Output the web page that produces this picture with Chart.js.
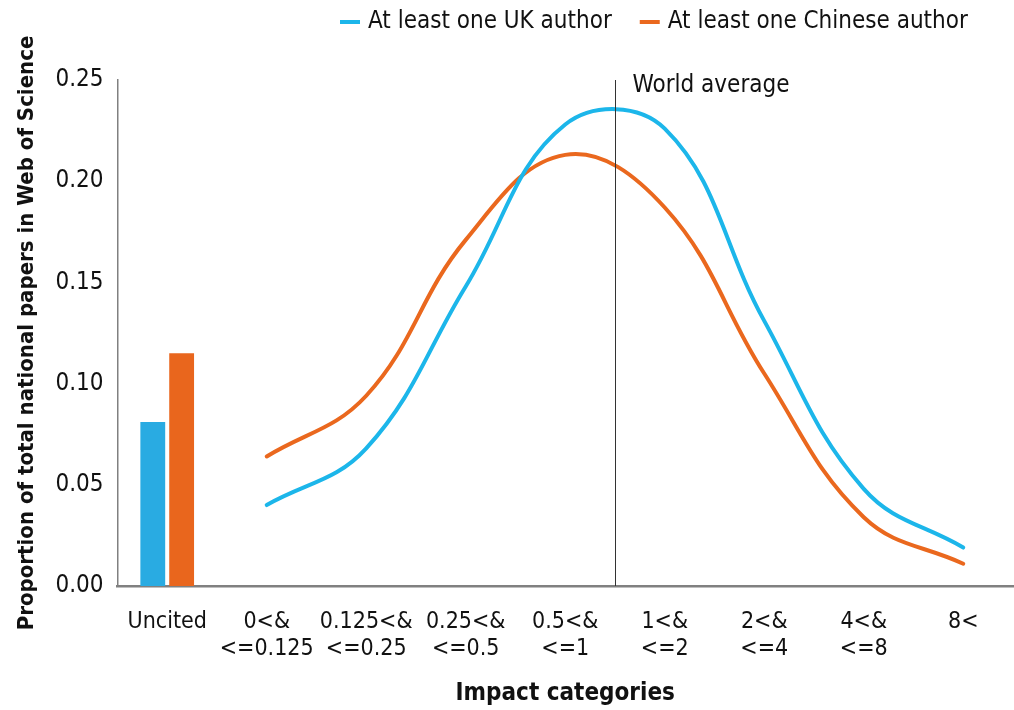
<!DOCTYPE html>
<html>
<head>
<meta charset="utf-8">
<script src="https://cdn.jsdelivr.net/npm/chart.js@4/dist/chart.umd.min.js"></script>
<style>
  html, body { margin: 0; padding: 0; background: #ffffff; }
  #wrap { width: 1014px; height: 710px; position: relative; }
</style>
</head>
<body>
<div id="wrap"><canvas id="c"></canvas></div>
<script>
// ---- data ----
const categories = ['Uncited', ['0<&', '<=0.125'], ['0.125<&', '<=0.25'], ['0.25<&', '<=0.5'], ['0.5<&', '<=1'], ['1<&', '<=2'], ['2<&', '<=4'], ['4<&', '<=8'], '8<'];
const seriesNames = ['At least one UK author', 'At least one Chinese author'];
const ukUncited = [0.081, null, null, null, null, null, null, null, null];
const cnUncited = [0.115, null, null, null, null, null, null, null, null];
const ukCurve = [null, 0.040, 0.068, 0.148, 0.228, 0.226, 0.131, 0.048, 0.019];
const cnCurve = [null, 0.064, 0.094, 0.171, 0.213, 0.187, 0.105, 0.034, 0.011];
const yTicks = [0, 0.05, 0.10, 0.15, 0.20, 0.25];
const worldAveragePos = 4.5; // boundary between "0.5<& <=1" and "1<& <=2"
const worldAverageLabel = 'World average';
const xTitle = 'Impact categories';
const yTitle = 'Proportion of total national papers in Web of Science';

// ---- style ----
const FONT = "'Liberation Sans Narrow', 'DejaVu Sans Condensed', 'Roboto Condensed', sans-serif";
const BLUE_BAR = '#29abe2', ORANGE_BAR = '#e9661d';
const BLUE_LINE = '#1cb6ea', ORANGE_LINE = '#ea681e';
const TEXT = '#111111';

const worldAvgPlugin = {
  id: 'worldAvg',
  afterDatasetsDraw(chart) {
    const {ctx, chartArea, scales} = chart;
    const x = Math.round(scales.x.getPixelForValue(worldAveragePos)) + 0.5;
    ctx.save();
    ctx.strokeStyle = '#333';
    ctx.lineWidth = 1;
    ctx.beginPath();
    ctx.moveTo(x, chartArea.top);
    ctx.lineTo(x, chartArea.bottom);
    ctx.stroke();
    ctx.fillStyle = TEXT;
    ctx.font = '24px ' + FONT;
    ctx.textBaseline = 'middle';
    ctx.textAlign = 'left';
    ctx.fillText(worldAverageLabel, x + 17, chartArea.top + 6);
    ctx.restore();
  }
};

const legendPlugin = {
  id: 'lineLegend',
  afterDraw(chart) {
    const {ctx} = chart;
    const items = chart.data.datasets.filter(d => d.type === 'line');
    ctx.save();
    ctx.font = '24px ' + FONT;
    ctx.textBaseline = 'middle';
    let x = 340;
    const y = 22;
    items.forEach(d => {
      ctx.strokeStyle = d.borderColor;
      ctx.lineWidth = 4;
      ctx.beginPath();
      ctx.moveTo(x, y);
      ctx.lineTo(x + 20, y);
      ctx.stroke();
      ctx.fillStyle = TEXT;
      ctx.fillText(d.label, x + 28, y);
      x += 28 + ctx.measureText(d.label).width + 28;
    });
    ctx.restore();
  }
};

new Chart(document.getElementById('c'), {
  data: {
    labels: categories,
    datasets: [
      { type: 'bar', label: seriesNames[0] + ' (uncited)', data: ukUncited, backgroundColor: BLUE_BAR, categoryPercentage: 0.58, barPercentage: 0.86 },
      { type: 'bar', label: seriesNames[1] + ' (uncited)', data: cnUncited, backgroundColor: ORANGE_BAR, categoryPercentage: 0.58, barPercentage: 0.86 },
      { type: 'line', label: seriesNames[0], data: ukCurve, borderColor: BLUE_LINE, borderWidth: 4, tension: 0.4, pointRadius: 0, fill: false, borderCapStyle: 'round' },
      { type: 'line', label: seriesNames[1], data: cnCurve, borderColor: ORANGE_LINE, borderWidth: 4, tension: 0.4, pointRadius: 0, fill: false, borderCapStyle: 'round' }
    ]
  },
  options: {
    responsive: true,
    maintainAspectRatio: false,
    animation: false,
    layout: { padding: { top: 80, right: 1, left: 14, bottom: 2 } },
    plugins: { legend: { display: false }, tooltip: { enabled: false } },
    scales: {
      x: {
        offset: true,
        grid: { display: false, drawTicks: false },
        border: { color: '#808080', width: 2.5 },
        ticks: { color: TEXT, font: { size: 23, family: FONT }, padding: 22, maxRotation: 0, autoSkip: false },
        title: { display: true, text: xTitle, color: TEXT, font: { size: 24, weight: 'bold', family: FONT }, padding: { top: -6, bottom: 0 } }
      },
      y: {
        min: 0, max: 0.25,
        afterBuildTicks: s => { s.ticks = yTicks.map(v => ({ value: v })); },
        grid: { display: false, drawTicks: false },
        border: { color: '#808080', width: 1.5 },
        ticks: { color: TEXT, font: { size: 24, family: FONT }, padding: 14, callback: v => Number(v).toFixed(2) },
        title: { display: true, text: yTitle, color: TEXT, font: { size: 22, weight: 'bold', family: FONT }, padding: { top: 0, bottom: 1 } }
      }
    }
  },
  plugins: [worldAvgPlugin, legendPlugin]
});
</script>
</body>
</html>
